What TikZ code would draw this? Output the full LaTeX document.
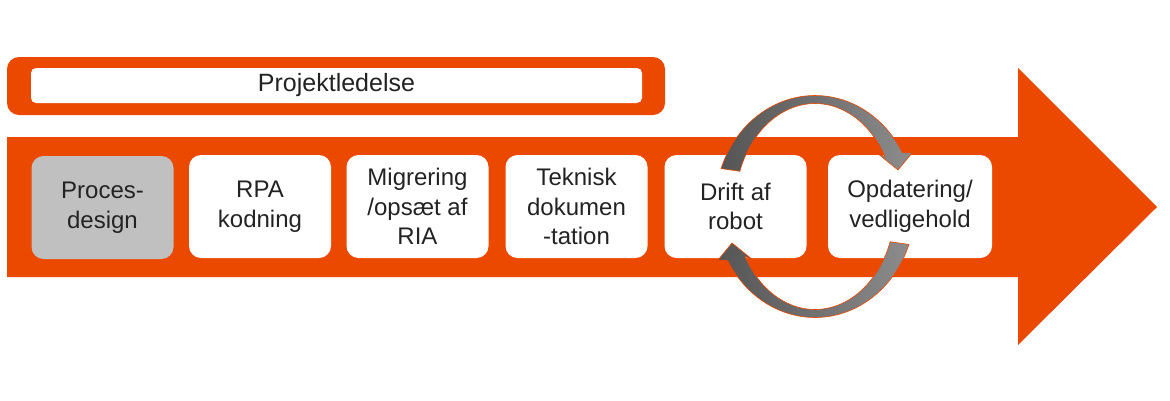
\documentclass[tikz,border=0pt]{standalone}
\usepackage{fontspec}
\setmainfont{Liberation Sans}
\definecolor{orng}{RGB}{235,72,0}
\definecolor{boxgray}{RGB}{192,192,192}
\definecolor{txt}{RGB}{35,35,35}
\definecolor{darkarc}{RGB}{85,85,85}
\definecolor{lightarc}{RGB}{140,140,140}
\begin{document}
\begin{tikzpicture}[x=1pt,y=-1pt,
  stepbox/.style={fill=white, rounded corners=12pt, minimum width=142pt, minimum height=103pt,
    align=center, font=\fontsize{24}{29.5}\selectfont, text=txt, inner sep=0pt},
  cyc/.style={draw=orng, line width=0.6pt, left color=darkarc, right color=lightarc}
]
\useasboundingbox (0,0) rectangle (1170,400);
% main arrow
\fill[orng] (7,137) -- (1018,137) -- (1018,68) -- (1157,207) -- (1018,345) -- (1018,277) -- (7,277) -- cycle;
% project management bar
\fill[orng, rounded corners=12pt] (7,57) rectangle (665,115);
\node[fill=white, rounded corners=5pt, minimum width=611pt, minimum height=35pt, inner sep=0pt,
  font=\fontsize{25}{28}\selectfont, text=txt] (pl) at (336.5,85.5) {Projektledelse};
% steps
\node[stepbox, fill=boxgray] (p1) at (102.5,207.5) {Proces-\\design};
\node[stepbox] (p2) at (260,206.5) {RPA\\kodning};
\node[stepbox] (p3) at (417.5,206.5) {Migrering\\/opsæt af\\RIA};
\node[stepbox] (p4) at (576.5,206.5) {Teknisk\\dokumen\\-tation};
\node[stepbox] (p5) at (735.5,206.5) {Drift af\\robot};
\node[stepbox, minimum width=164pt] (p6) at (910,206.5) {Opdatering/\\vedligehold};
% cycle arrows
\coordinate (cc) at (815,206.5);
\path[cyc] plot[domain=160:29, samples=50] ({815+100*cos(\x)},{206.5-111*sin(\x)})
  -- (912,153) -- (898,170) -- (877,153)
  -- plot[domain=29:160, samples=50] ({815+80*cos(\x)},{206.5-103*sin(\x)}) -- cycle;
\begin{scope}[rotate around={180:(cc)}]
\path[cyc] plot[domain=160:29, samples=50] ({815+100*cos(\x)},{206.5-111*sin(\x)})
  -- (912,153) -- (898,170) -- (877,153)
  -- plot[domain=29:160, samples=50] ({815+80*cos(\x)},{206.5-103*sin(\x)}) -- cycle;
\end{scope}
\end{tikzpicture}
\end{document}
